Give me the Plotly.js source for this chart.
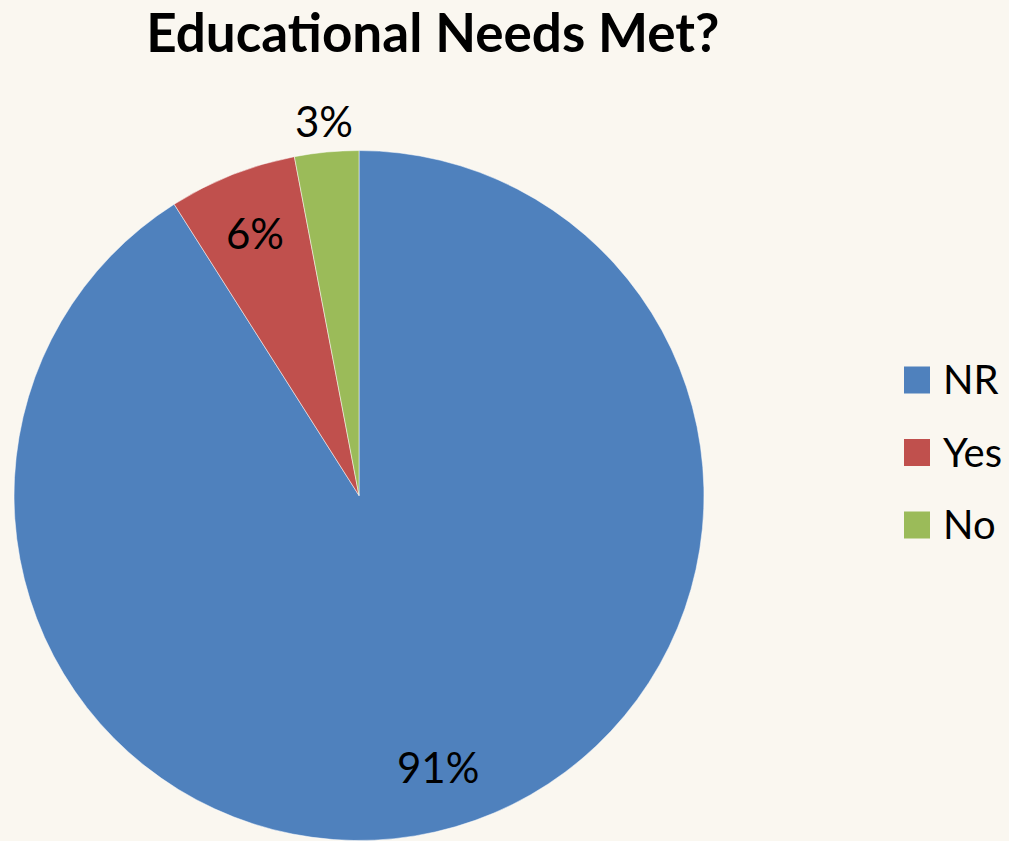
<!DOCTYPE html>
<html><head><meta charset="utf-8">
<script src="https://cdn.plot.ly/plotly-3.0.1.min.js"></script>
<style>html,body{margin:0;padding:0;background:#FAF7F0;}</style>
</head><body>
<div id="chart" style="width:1009px;height:841px;"></div>
<script>
const categories = ["NR", "Yes", "No"];
const values = [91, 6, 3];
const percentLabels = ["91%", "6%", "3%"];
const labelOutside = [false, false, true];
const colors = ["#4F81BD", "#C0504D", "#9BBB59"];

const W = 1009, H = 841;
const dom = {x: [0.0139, 0.6977], y: [0.0006, 0.821]};

const trace = {
  type: "pie",
  labels: categories,
  values: values,
  text: percentLabels,
  textinfo: "none",
  hoverinfo: "label+text",
  sort: false,
  direction: "clockwise",
  rotation: 0,
  showlegend: false,
  marker: {colors: colors, line: {color: "#FFFFFF", width: 0.5}},
  domain: dom,
  automargin: false
};

// Data labels placed along each slice's mid-angle (computed from the values)
const total = values.reduce((a, b) => a + b, 0);
const cxPx = (dom.x[0] + dom.x[1]) / 2 * W;
const cyPx = (1 - (dom.y[0] + dom.y[1]) / 2) * H;
const Rpx = Math.min((dom.x[1] - dom.x[0]) * W, (dom.y[1] - dom.y[0]) * H) / 2;
const annotations = [];
let cum = 0;
values.forEach((v, i) => {
  const mid = (cum + v / 2) / total * 2 * Math.PI;
  cum += v;
  const rf = labelOutside[i] ? 1.09 : 0.82;
  const px = cxPx + rf * Rpx * Math.sin(mid);
  const py = cyPx - rf * Rpx * Math.cos(mid);
  annotations.push({
    xref: "paper", yref: "paper", x: px / W, y: 1 - py / H,
    xanchor: "center", yanchor: "middle", showarrow: false,
    text: percentLabels[i],
    font: {family: "Lato, sans-serif", size: 42, color: "#000000"}
  });
});

// Legend drawn with large square keys, matching the original style
const legendX = 904 / W, keyW = 26 / W, keyH = 27 / H, textGap = 11 / W;
const legendTop = 1 - 380 / H, legendStep = 72.5 / H;
const shapes = [];
categories.forEach((c, i) => {
  const yc = legendTop - i * legendStep;
  shapes.push({type: "rect", xref: "paper", yref: "paper",
    x0: legendX, x1: legendX + keyW, y0: yc - keyH / 2, y1: yc + keyH / 2,
    fillcolor: colors[i], line: {width: 0}});
  annotations.push({xref: "paper", yref: "paper", x: legendX + keyW + textGap, y: yc + 1 / H,
    xanchor: "left", yanchor: "middle", showarrow: false, text: c,
    font: {family: "Lato, sans-serif", size: 40, color: "#000000"}});
});

const layout = {
  width: W, height: H,
  margin: {l: 0, r: 0, t: 0, b: 0},
  paper_bgcolor: "#FAF7F0",
  plot_bgcolor: "#FAF7F0",
  title: {text: "<b>Educational Needs Met?</b>", x: 0.429, xanchor: "center", y: 0.96, yanchor: "middle",
          font: {family: "Lato, sans-serif", size: 53, color: "#000000"}},
  showlegend: false,
  annotations: annotations,
  shapes: shapes
};

Plotly.newPlot("chart", [trace], layout, {displayModeBar: false, staticPlot: true});
</script>
</body></html>
